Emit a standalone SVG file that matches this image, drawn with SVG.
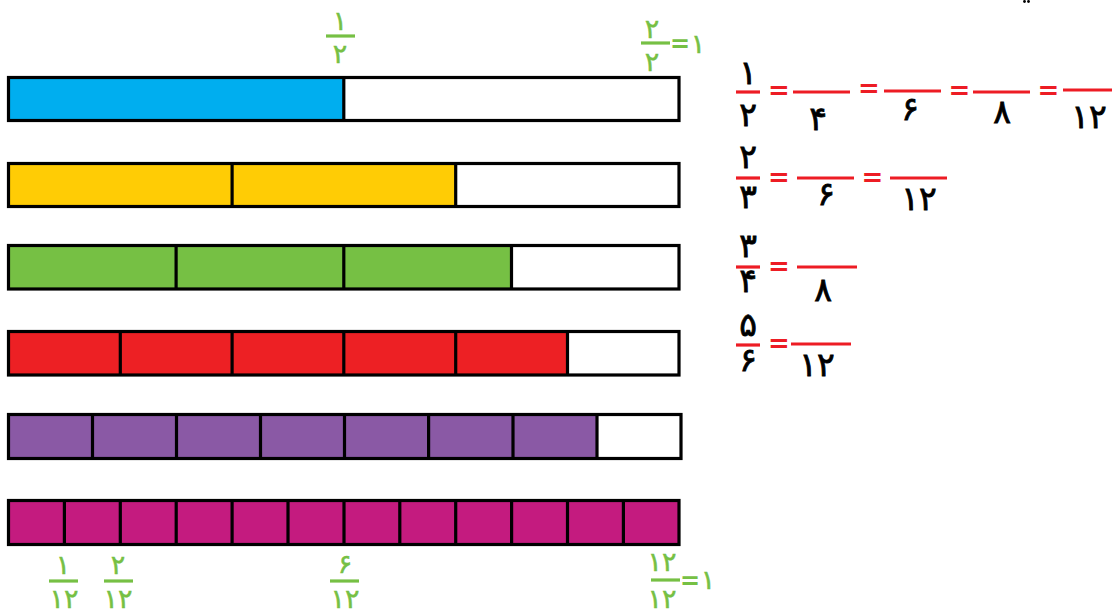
<svg xmlns="http://www.w3.org/2000/svg" width="1112" height="609" viewBox="0 0 1112 609">
<style>
.o{fill:none;stroke:#000;stroke-width:3.2}
.d{stroke:#000;stroke-width:3.2}
.w{fill:#fff}
.blk{font-family:"DejaVu Sans",sans-serif;font-weight:normal;font-size:33px;fill:#000;stroke:#000;stroke-width:0.8;text-anchor:middle}
.grn{font-family:"DejaVu Sans",sans-serif;font-weight:normal;font-size:27px;fill:#76C044;stroke:#76C044;stroke-width:0.5;text-anchor:middle}
.req{font-family:"DejaVu Sans",sans-serif;font-weight:bold;font-size:26px;fill:#ED1C24;text-anchor:middle}
.geq{font-family:"DejaVu Sans",sans-serif;font-weight:bold;font-size:24px;fill:#76C044;text-anchor:middle}
.rl{stroke:#ED1C24;stroke-width:3.2}
.gl{stroke:#76C044;stroke-width:3.2}
</style>
<rect width="1112" height="609" fill="#fff"/>
<g id="bar-half">
<rect x="8.5" y="77.5" width="335.3" height="43" fill="#00AEEF"/>
<rect x="343.8" y="77.5" width="335.2" height="43" class="w"/>
<line x1="343.8" y1="77.5" x2="343.8" y2="120.5" class="d"/>
<rect x="8.5" y="77.5" width="670.5" height="43" class="o"/>
</g>
<g id="bar-thirds">
<rect x="8.5" y="163.5" width="447.2" height="43" fill="#FFCC05"/>
<rect x="455.7" y="163.5" width="223.3" height="43" class="w"/>
<line x1="232.1" y1="163.5" x2="232.1" y2="206.5" class="d"/>
<line x1="455.7" y1="163.5" x2="455.7" y2="206.5" class="d"/>
<rect x="8.5" y="163.5" width="670.5" height="43" class="o"/>
</g>
<g id="bar-quarters">
<rect x="8.5" y="245.5" width="503" height="43.5" fill="#76C044"/>
<rect x="511.5" y="245.5" width="167.5" height="43.5" class="w"/>
<line x1="176.1" y1="245.5" x2="176.1" y2="289" class="d"/>
<line x1="343.8" y1="245.5" x2="343.8" y2="289" class="d"/>
<line x1="511.5" y1="245.5" x2="511.5" y2="289" class="d"/>
<rect x="8.5" y="245.5" width="670.5" height="43.5" class="o"/>
</g>
<g id="bar-sixths">
<rect x="8.5" y="331.5" width="559" height="43.5" fill="#ED2024"/>
<rect x="567.5" y="331.5" width="111.5" height="43.5" class="w"/>
<line x1="120.3" y1="331.5" x2="120.3" y2="375" class="d"/>
<line x1="232.1" y1="331.5" x2="232.1" y2="375" class="d"/>
<line x1="343.8" y1="331.5" x2="343.8" y2="375" class="d"/>
<line x1="455.7" y1="331.5" x2="455.7" y2="375" class="d"/>
<line x1="567.5" y1="331.5" x2="567.5" y2="375" class="d"/>
<rect x="8.5" y="331.5" width="670.5" height="43.5" class="o"/>
</g>
<g id="bar-eighths">
<rect x="8.5" y="414.5" width="588.5" height="44" fill="#8A59A5"/>
<rect x="597" y="414.5" width="84" height="44" class="w"/>
<line x1="92.5" y1="414.5" x2="92.5" y2="458.5" class="d"/>
<line x1="176.5" y1="414.5" x2="176.5" y2="458.5" class="d"/>
<line x1="260.5" y1="414.5" x2="260.5" y2="458.5" class="d"/>
<line x1="344.5" y1="414.5" x2="344.5" y2="458.5" class="d"/>
<line x1="428.6" y1="414.5" x2="428.6" y2="458.5" class="d"/>
<line x1="513" y1="414.5" x2="513" y2="458.5" class="d"/>
<line x1="597" y1="414.5" x2="597" y2="458.5" class="d"/>
<rect x="8.5" y="414.5" width="672.5" height="44" class="o"/>
</g>
<g id="bar-twelfths">
<rect x="8.5" y="500.5" width="670.5" height="44" fill="#C41B7F"/>
<line x1="64.4" y1="500.5" x2="64.4" y2="544.5" class="d"/>
<line x1="120.3" y1="500.5" x2="120.3" y2="544.5" class="d"/>
<line x1="176.2" y1="500.5" x2="176.2" y2="544.5" class="d"/>
<line x1="232.1" y1="500.5" x2="232.1" y2="544.5" class="d"/>
<line x1="288" y1="500.5" x2="288" y2="544.5" class="d"/>
<line x1="344" y1="500.5" x2="344" y2="544.5" class="d"/>
<line x1="399.8" y1="500.5" x2="399.8" y2="544.5" class="d"/>
<line x1="455.7" y1="500.5" x2="455.7" y2="544.5" class="d"/>
<line x1="511.6" y1="500.5" x2="511.6" y2="544.5" class="d"/>
<line x1="567.5" y1="500.5" x2="567.5" y2="544.5" class="d"/>
<line x1="623.4" y1="500.5" x2="623.4" y2="544.5" class="d"/>
<rect x="8.5" y="500.5" width="670.5" height="44" class="o"/>
</g>
<g id="top-labels">
<text x="340" y="30" class="grn">۱</text>
<line x1="326" y1="36" x2="355" y2="36" class="gl"/>
<text x="340" y="63" class="grn">۲</text>
<text x="652" y="38" class="grn">۲</text>
<line x1="641" y1="43" x2="670" y2="43" class="gl"/>
<text x="652" y="71" class="grn">۲</text>
<text x="680" y="52" class="geq">=</text>
<text x="698" y="53" class="grn">۱</text>
</g>
<g id="bottom-labels">
<text x="63" y="574" class="grn">۱</text>
<line x1="49" y1="581" x2="78" y2="581" class="gl"/>
<text x="64" y="608" class="grn">۱۲</text>
<text x="118" y="574" class="grn">۲</text>
<line x1="104" y1="581" x2="133" y2="581" class="gl"/>
<text x="118" y="608" class="grn">۱۲</text>
<text x="345" y="573" class="grn">۶</text>
<line x1="330" y1="581" x2="359" y2="581" class="gl"/>
<text x="345" y="608" class="grn">۱۲</text>
<text x="662" y="571" class="grn">۱۲</text>
<line x1="651" y1="580" x2="680" y2="580" class="gl"/>
<text x="662" y="608" class="grn">۱۲</text>
<text x="690" y="589" class="geq">=</text>
<text x="708" y="589" class="grn">۱</text>
</g>
<g id="eq-half">
<text x="748" y="84" class="blk">۱</text>
<line x1="736" y1="92" x2="760" y2="92" class="rl"/>
<text x="748" y="126" class="blk">۲</text>
<text x="779" y="99" class="req">=</text>
<line x1="793" y1="92" x2="850" y2="92" class="rl"/>
<text x="818" y="130" class="blk">۴</text>
<text x="869" y="97" class="req">=</text>
<line x1="884" y1="91" x2="941" y2="91" class="rl"/>
<text x="910" y="120" class="blk">۶</text>
<text x="959.5" y="99" class="req">=</text>
<line x1="973" y1="92" x2="1030" y2="92" class="rl"/>
<text x="1002" y="123" class="blk">۸</text>
<text x="1048.5" y="99" class="req">=</text>
<line x1="1063" y1="90" x2="1112" y2="90" class="rl"/>
<text x="1089" y="128" class="blk">۱۲</text>
</g>
<g id="eq-thirds">
<text x="748" y="168" class="blk">۲</text>
<line x1="736" y1="178" x2="760" y2="178" class="rl"/>
<text x="748" y="208" class="blk">۳</text>
<text x="779" y="185.5" class="req">=</text>
<line x1="797" y1="178" x2="854" y2="178" class="rl"/>
<text x="826" y="205" class="blk">۶</text>
<text x="872.5" y="185.5" class="req">=</text>
<line x1="890" y1="178" x2="947" y2="178" class="rl"/>
<text x="919" y="210" class="blk">۱۲</text>
</g>
<g id="eq-quarters">
<text x="748" y="257" class="blk">۳</text>
<line x1="736" y1="267" x2="760" y2="267" class="rl"/>
<text x="748" y="292" class="blk">۴</text>
<text x="779" y="274.5" class="req">=</text>
<line x1="797" y1="267" x2="857" y2="267" class="rl"/>
<text x="823" y="301" class="blk">۸</text>
</g>
<g id="eq-sixths">
<text x="748" y="336" class="blk">۵</text>
<line x1="736" y1="345" x2="760" y2="345" class="rl"/>
<text x="748" y="371" class="blk">۶</text>
<text x="779" y="352" class="req">=</text>
<line x1="791" y1="344" x2="851" y2="344" class="rl"/>
<text x="817" y="376" class="blk">۱۲</text>
</g>
<circle cx="1024.5" cy="1.5" r="1.4" fill="#000"/>
<circle cx="1028.5" cy="1.5" r="1.4" fill="#000"/>
</svg>
